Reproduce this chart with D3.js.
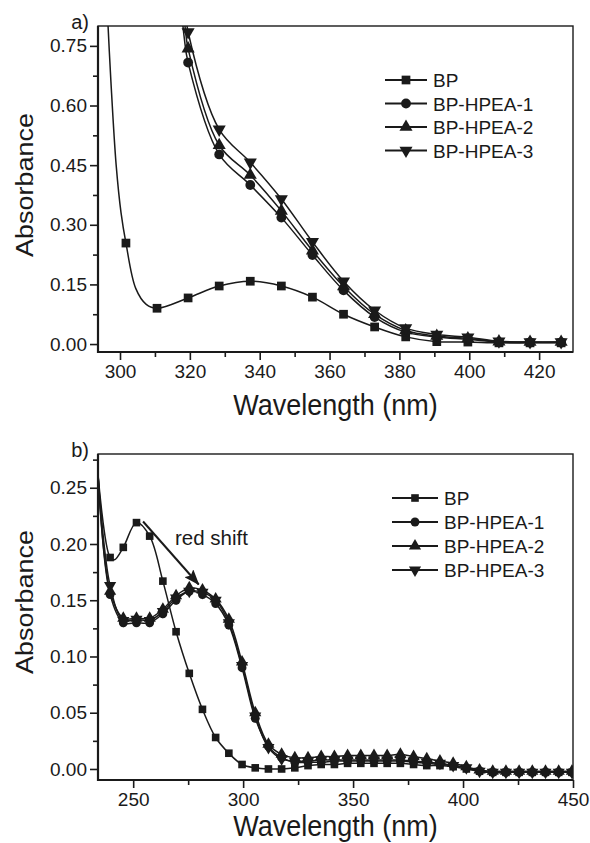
<!DOCTYPE html>
<html>
<head>
  <script src="https://d3js.org/d3.v7.min.js"></script>
  <style>
    body { margin: 0; background: #fff; }
    text { font-family: "Liberation Sans", Arial, sans-serif; fill: #1a1a1a; }
  </style>
</head>
<body>
<svg id="chart" width="590" height="843"></svg>
<script>
// ---- panel a data (marker wavelengths) ----
const wlA = [301.7, 310.6, 319.5, 328.4, 337.3, 346.2, 355.1, 364.0, 372.9, 381.8, 390.7, 399.6, 408.5, 417.4, 426.3];
const bpA = [0.254, 0.090, 0.116, 0.146, 0.158, 0.146, 0.118, 0.075, 0.043, 0.018, 0.006, 0.005, 0.003, 0.003, 0.003];
const h1A = [null, null, 0.708, 0.477, 0.400, 0.318, 0.224, 0.135, 0.068, 0.030, 0.018, 0.012, 0.005, 0.004, 0.004];
const h2A = [null, null, 0.743, 0.500, 0.425, 0.335, 0.235, 0.145, 0.075, 0.034, 0.020, 0.014, 0.006, 0.005, 0.005];
const h3A = [null, null, 0.785, 0.540, 0.457, 0.365, 0.257, 0.158, 0.085, 0.040, 0.024, 0.017, 0.007, 0.005, 0.005];
// extra line points without markers
const bpALead = [[296.3, 0.85], [297.4, 0.66], [298.9, 0.45], [300.3, 0.33], [304.5, 0.14], [307.5, 0.10]];
const h1ALead = [[317.4, 0.86], [318.4, 0.77]];
const h2ALead = [[317.6, 0.87], [318.6, 0.80]];
const h3ALead = [[317.8, 0.89], [318.8, 0.83]];

// ---- panel b data ----
const wlB = [239.5, 245.5, 251.5, 257.5, 263.5, 269.5, 275.5, 281.5, 287.5, 293.5, 299.5, 305.5,
             311.5, 317.5, 323.5, 329.5, 335.5, 341.5, 347.5, 353.5, 359.5, 365.5, 371.5, 377.5,
             383.5, 389.5, 395.5, 401.5, 407.5, 413.5, 419.5, 425.5, 431.5, 437.5, 443.5, 449.5];
const bpB = [0.188, 0.197, 0.219, 0.207, 0.167, 0.122, 0.085, 0.053, 0.028, 0.014, 0.004, 0.001,
             0.000, 0.000, 0.001, 0.003, 0.004, 0.004, 0.005, 0.005, 0.005, 0.005, 0.005, 0.004,
             0.003, 0.003, 0.002, 0.000, -0.002, -0.003, -0.003, -0.003, -0.003, -0.003, -0.003, -0.003];
const h1B = [0.155, 0.130, 0.130, 0.130, 0.138, 0.150, 0.158, 0.155, 0.147, 0.128, 0.090, 0.045,
             0.020, 0.010, 0.006, 0.006, 0.006, 0.007, 0.007, 0.007, 0.007, 0.007, 0.007, 0.006,
             0.005, 0.004, 0.003, 0.001, -0.002, -0.003, -0.003, -0.003, -0.003, -0.003, -0.003, -0.003];
const h2B = [0.158, 0.134, 0.134, 0.134, 0.142, 0.154, 0.161, 0.159, 0.151, 0.133, 0.095, 0.050,
             0.022, 0.013, 0.010, 0.010, 0.011, 0.011, 0.012, 0.012, 0.012, 0.012, 0.013, 0.011,
             0.009, 0.007, 0.005, 0.002, -0.001, -0.002, -0.002, -0.002, -0.002, -0.002, -0.002, -0.002];
const h3B = [0.163, 0.132, 0.133, 0.132, 0.140, 0.152, 0.158, 0.157, 0.150, 0.130, 0.092, 0.047,
             0.019, 0.009, 0.007, 0.007, 0.008, 0.008, 0.008, 0.008, 0.008, 0.008, 0.008, 0.007,
             0.006, 0.005, 0.003, 0.001, -0.002, -0.003, -0.003, -0.003, -0.003, -0.003, -0.003, -0.003];
const bpBLead = [[234.0, 0.262], [241.5, 0.186]];
const h1BLead = [[234.0, 0.262]];
const h2BLead = [[234.0, 0.262]];
const h3BLead = [[234.0, 0.262]];

const seriesNames = ["BP", "BP-HPEA-1", "BP-HPEA-2", "BP-HPEA-3"];
const redShiftArrow = [[254.5, 0.220], [279.8, 0.164]];

const svg = d3.select("#chart");

// symbol path for each series
function symbolPath(i, size) {
  const types = [d3.symbolSquare, d3.symbolCircle, d3.symbolTriangle, d3.symbolTriangle];
  return d3.symbol().type(types[i]).size(size)();
}

function mergePoints(wl, vals, lead) {
  const pts = wl.map((w, i) => ({x: w, y: vals[i], m: true})).filter(d => d.y != null);
  lead.forEach(p => pts.push({x: p[0], y: p[1], m: false}));
  pts.sort((a, b) => a.x - b.x);
  return pts;
}

function drawPanel(cfg) {
  const x = d3.scaleLinear().domain(cfg.xDomain).range([98, 573]);
  const y = d3.scaleLinear().domain(cfg.yDomain).range([cfg.bottom, cfg.top]);
  const g = svg.append("g");

  g.append("clipPath").attr("id", cfg.id + "-clip")
    .append("rect").attr("x", 98).attr("y", cfg.top)
    .attr("width", 475).attr("height", cfg.bottom - cfg.top);

  // axes
  const xAxis = d3.axisBottom(x).tickValues(cfg.xTicks).tickSize(8).tickPadding(5).tickFormat(d3.format("d"));
  const xMinor = d3.axisBottom(x).tickValues(cfg.xMinor).tickSize(5).tickFormat("");
  const yAxis = d3.axisLeft(y).tickValues(cfg.yTicks).tickSize(8).tickPadding(3).tickFormat(d3.format(".2f"));
  const yMinor = d3.axisLeft(y).tickValues(cfg.yMinor).tickSize(5).tickFormat("");

  [[xAxis, "b"], [xMinor, "b"], [yAxis, "l"], [yMinor, "l"]].forEach(([ax, side]) => {
    const a = g.append("g")
      .attr("transform", side === "b" ? `translate(0,${cfg.bottom})` : "translate(98,0)")
      .call(ax);
    a.select(".domain").remove();
    a.selectAll("line").attr("stroke", "#1a1a1a").attr("stroke-width", 1.6);
    a.selectAll("text").style("font-size", "19px").style("font-family", "'Liberation Sans', Arial, sans-serif").attr("fill", "#1a1a1a");
  });

  // frame
  g.append("rect").attr("x", 98).attr("y", cfg.top).attr("width", 475)
    .attr("height", cfg.bottom - cfg.top).attr("fill", "none")
    .attr("stroke", "#1a1a1a").attr("stroke-width", 1.4);
  g.append("path").attr("d", `M98,${cfg.top}V${cfg.bottom}H573`)
    .attr("fill", "none").attr("stroke", "#1a1a1a").attr("stroke-width", 2.2);

  const plot = g.append("g").attr("clip-path", `url(#${cfg.id}-clip)`);
  const line = d3.line().x(d => x(d.x)).y(d => y(d.y)).curve(d3.curveCatmullRom.alpha(0.5));

  cfg.series.forEach((s, i) => {
    const pts = mergePoints(cfg.wl, s.vals, s.lead);
    plot.append("path").datum(pts).attr("d", line)
      .attr("fill", "none").attr("stroke", "#1a1a1a").attr("stroke-width", 1.5);
    plot.selectAll(null).data(pts.filter(d => d.m)).enter().append("path")
      .attr("d", symbolPath(i, cfg.symSize[i]))
      .attr("transform", d => `translate(${x(d.x)},${y(d.y)})` + (i === 3 ? " rotate(180)" : ""))
      .attr("fill", "#1a1a1a");
  });

  // legend
  const lg = g.append("g");
  seriesNames.forEach((name, i) => {
    const yy = cfg.legendY + i * cfg.legendGap;
    lg.append("line").attr("x1", cfg.legendX).attr("x2", cfg.legendX + cfg.legendW)
      .attr("y1", yy).attr("y2", yy).attr("stroke", "#1a1a1a").attr("stroke-width", 1.8);
    lg.append("path").attr("d", symbolPath(i, cfg.symSize[i]))
      .attr("transform", `translate(${cfg.legendX + cfg.legendW / 2},${yy})` + (i === 3 ? " rotate(180)" : ""))
      .attr("fill", "#1a1a1a");
    lg.append("text").attr("x", cfg.legendX + cfg.legendW + 6).attr("y", yy + 7)
      .style("font-size", "19px").text(name);
  });

  // titles (source figure is slightly stretched vertically)
  g.append("text").attr("transform", `translate(33,${cfg.absY}) rotate(-90) scale(1.1,1)`)
    .attr("text-anchor", "middle").style("font-size", "24.5px").text("Absorbance");
  g.append("text").attr("transform", `translate(335.5,${cfg.wlY}) scale(1,1.1)`)
    .attr("text-anchor", "middle").style("font-size", "27px").text("Wavelength (nm)");
  g.append("text").attr("x", 89).attr("y", cfg.top + 3)
    .attr("text-anchor", "end").style("font-size", "20px").text(cfg.label);

  return {x, y, g};
}

drawPanel({
  id: "pa", label: "a)", top: 26, bottom: 352, absY: 185, wlY: 415,
  xDomain: [293.7, 429.7], yDomain: [-0.02, 0.8],
  xTicks: [300, 320, 340, 360, 380, 400, 420], xMinor: [310, 330, 350, 370, 390, 410],
  yTicks: [0, 0.15, 0.30, 0.45, 0.60, 0.75], yMinor: [0.075, 0.225, 0.375, 0.525, 0.675],
  wl: wlA,
  series: [{vals: bpA, lead: bpALead}, {vals: h1A, lead: h1ALead},
           {vals: h2A, lead: h2ALead}, {vals: h3A, lead: h3ALead}],
  symSize: [76, 76, 74, 74],
  legendX: 385, legendW: 42, legendY: 80, legendGap: 23.5
});

const pb = drawPanel({
  id: "pb", label: "b)", top: 454, bottom: 780, absY: 602, wlY: 836,
  xDomain: [234, 450], yDomain: [-0.0098, 0.28],
  xTicks: [250, 300, 350, 400, 450], xMinor: [275, 325, 375, 425],
  yTicks: [0, 0.05, 0.10, 0.15, 0.20, 0.25], yMinor: [0.025, 0.075, 0.125, 0.175, 0.225, 0.275],
  wl: wlB,
  series: [{vals: bpB, lead: bpBLead}, {vals: h1B, lead: h1BLead},
           {vals: h2B, lead: h2BLead}, {vals: h3B, lead: h3BLead}],
  symSize: [58, 62, 64, 64],
  legendX: 392, legendW: 46, legendY: 498, legendGap: 24
});

// red shift arrow
svg.append("defs").append("marker").attr("id", "arrowhead")
  .attr("markerUnits", "userSpaceOnUse")
  .attr("viewBox", "0 0 16 12").attr("refX", 15).attr("refY", 6)
  .attr("markerWidth", 16).attr("markerHeight", 12).attr("orient", "auto")
  .append("path").attr("d", "M0,0L16,6L0,12L3,6z").attr("fill", "#1a1a1a");
pb.g.append("line")
  .attr("x1", pb.x(redShiftArrow[0][0])).attr("y1", pb.y(redShiftArrow[0][1]))
  .attr("x2", pb.x(redShiftArrow[1][0])).attr("y2", pb.y(redShiftArrow[1][1]))
  .attr("stroke", "#1a1a1a").attr("stroke-width", 2).attr("marker-end", "url(#arrowhead)");
pb.g.append("text").attr("x", 175).attr("y", 545).style("font-size", "20.5px").text("red shift");
</script>
</body>
</html>
